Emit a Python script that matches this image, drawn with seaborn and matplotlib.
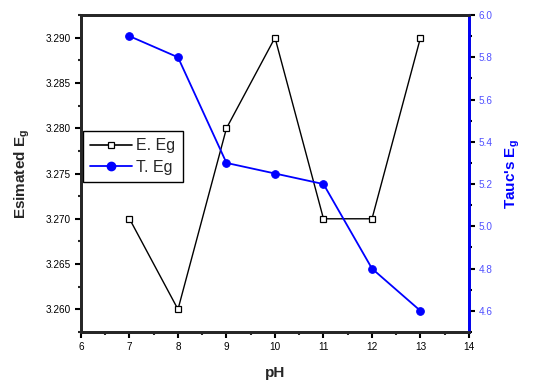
import numpy as np
import matplotlib
matplotlib.use('Agg')
import matplotlib.pyplot as plt
import seaborn as sns
from matplotlib.ticker import MultipleLocator
from matplotlib.lines import Line2D

sns.set_style('ticks')
plt.rcParams['font.family'] = ['Liberation Sans', 'DejaVu Sans']
plt.rcParams['mathtext.fontset'] = 'custom'
plt.rcParams['mathtext.rm'] = 'Liberation Sans'
plt.rcParams['mathtext.bf'] = 'Liberation Sans:bold'

# 데이터
ph = [7, 8, 9, 10, 11, 12, 13]
e_eg = [3.270, 3.260, 3.280, 3.290, 3.270, 3.270, 3.290]   # Esimated Eg
t_eg = [5.9, 5.8, 5.3, 5.25, 5.2, 4.8, 4.6]                 # Tauc's Eg

blue = '#0000ff'

fig = plt.figure(figsize=(5.41, 3.91), dpi=100)
ax = fig.add_axes([0.1497, 0.1509, 0.7172, 0.8107])
ax2 = ax.twinx()

sns.lineplot(x=ph, y=e_eg, ax=ax, color='black', lw=1.0, marker='s', markersize=4.5,
             markerfacecolor='white', markeredgecolor='black', markeredgewidth=0.9)
sns.lineplot(x=ph, y=t_eg, ax=ax2, color=blue, lw=1.3, marker='o', markersize=5.5,
             markerfacecolor=blue, markeredgecolor=blue)

ax.set_xlim(6, 14)
ax.set_ylim(3.2575, 3.2925)
ax2.set_ylim(4.5, 6.0)

ax.xaxis.set_major_locator(MultipleLocator(1))
ax.xaxis.set_minor_locator(MultipleLocator(0.5))
ax.yaxis.set_major_locator(MultipleLocator(0.005))
ax.yaxis.set_minor_locator(MultipleLocator(0.0025))
ax2.yaxis.set_major_locator(MultipleLocator(0.2))
ax2.yaxis.set_minor_locator(MultipleLocator(0.1))
ax.yaxis.set_major_formatter(matplotlib.ticker.FormatStrFormatter('%.3f'))
ax2.yaxis.set_major_formatter(matplotlib.ticker.FormatStrFormatter('%.1f'))

for a in (ax, ax2):
    for s in a.spines.values():
        s.set_linewidth(2)
        s.set_visible(True)
ax2.spines['right'].set_color(blue)

ax.tick_params(axis='both', which='major', direction='out', length=4, width=1.5,
               labelsize=7.2, colors='black', pad=3)
ax.tick_params(axis='both', which='minor', direction='out', length=2.5, width=1.5)
ax2.tick_params(axis='y', which='major', direction='out', length=4, width=1.5,
                labelsize=7.2, color='black', labelcolor='#5050ff', pad=3)
ax2.tick_params(axis='y', which='minor', direction='out', length=2.5, width=1.5, color='black')

ax.set_xlabel('pH', fontsize=11, fontweight='bold', labelpad=10)
ax.set_ylabel(r'Esimated E$_\mathbf{g}$', fontsize=11, fontweight='bold', labelpad=10)
ax2.set_ylabel(r"Tauc's E$_\mathbf{g}$", fontsize=11, fontweight='bold', color=blue, labelpad=8)

handles = [
    Line2D([], [], color='black', lw=1.2, marker='s', markersize=4.5,
           markerfacecolor='white', markeredgecolor='black', markeredgewidth=0.9),
    Line2D([], [], color=blue, lw=1.3, marker='o', markersize=6,
           markerfacecolor=blue, markeredgecolor=blue),
]
leg = ax.legend(handles, ['E. Eg', 'T. Eg'], loc='upper left',
                bbox_to_anchor=(0.005, 0.634), borderaxespad=0, fontsize=11.5,
                frameon=True, fancybox=False, edgecolor='black', framealpha=1,
                handlelength=2.6, handletextpad=0.3, borderpad=0.45, labelspacing=0.4)
leg.get_frame().set_linewidth(1)

fig.savefig('out.png', dpi=100)
